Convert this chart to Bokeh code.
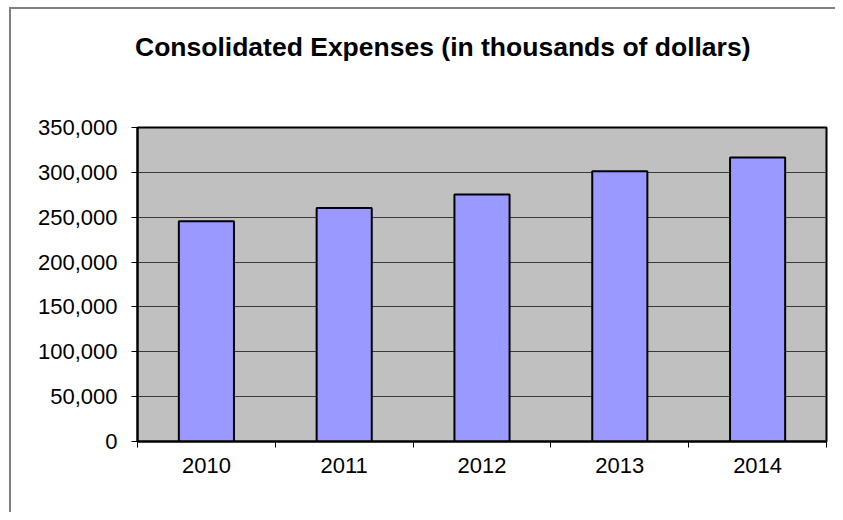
from bokeh.plotting import figure
from bokeh.models import (FixedTicker, NumeralTickFormatter, Range1d, ColumnDataSource, Title)
from bokeh.embed import file_html
from bokeh.resources import INLINE

title_text = "Consolidated Expenses (in thousands of dollars)"
years = ["2010", "2011", "2012", "2013", "2014"]
expenses = [245500, 260300, 275200, 301300, 316500]
y_ticks = [0, 50000, 100000, 150000, 200000, 250000, 300000, 350000]

FONT = "Liberation Sans"

xs = [i + 0.5 for i in range(len(years))]
src = ColumnDataSource(dict(x=xs, top=expenses))

p = figure(width=835, height=512, output_backend="svg", toolbar_location=None,
           x_range=Range1d(0, len(years)), y_range=Range1d(y_ticks[0], y_ticks[-1]),
           min_border_left=137, min_border_right=9, min_border_top=127,
           min_border_bottom=71)
p.title = None

# spacer between frame and title (nearest to frame), then the real title
p.add_layout(Title(text=" ", text_font_size="2px", standoff=57), "above")
p.add_layout(Title(text=title_text, align="left", offset=-2.5, standoff=10,
                   text_font=FONT, text_font_size="26.5px", text_font_style="bold",
                   text_color="black"), "above")

p.background_fill_color = "#C0C0C0"
p.border_fill_color = None
p.outline_line_color = "black"
p.outline_line_width = 2

# outer chart border (left/top visible), drawn as host background
p.styles = {
    "background-color": "white",
    "background-image": "linear-gradient(#808080, #808080), linear-gradient(#808080, #808080)",
    "background-size": "2px 100%, 100% 2px",
    "background-position": "9px 7px, 9px 7px",
    "background-repeat": "no-repeat",
}

p.vbar(x="x", top="top", width=0.4, source=src, fill_color="#9999FF",
       line_color="black", line_width=2)

# x axis
p.xaxis.ticker = FixedTicker(ticks=xs, minor_ticks=list(range(len(years) + 1)))
p.xaxis.major_label_overrides = {x: y for x, y in zip(xs, years)}
p.xaxis.major_tick_out = 0
p.xaxis.major_tick_in = 0
p.xaxis.minor_tick_out = 6
p.xaxis.minor_tick_in = 0
p.xaxis.minor_tick_line_color = "black"
p.xaxis.minor_tick_line_width = 1
p.xaxis.major_label_standoff = 10

# y axis
p.yaxis.ticker = FixedTicker(ticks=y_ticks)
p.yaxis.formatter = NumeralTickFormatter(format="0,0")
p.yaxis.major_tick_out = 6
p.yaxis.major_tick_in = 0
p.yaxis.minor_tick_out = 0
p.yaxis.minor_tick_in = 0
p.yaxis.major_label_standoff = 14

for ax in (p.xaxis, p.yaxis):
    ax.axis_line_color = "black"
    ax.axis_line_width = 2
    ax.major_tick_line_color = "black"
    ax.major_label_text_font = FONT
    ax.major_label_text_font_size = "22px"
    ax.major_label_text_color = "black"

p.xgrid.grid_line_color = None
p.ygrid.ticker = FixedTicker(ticks=y_ticks)
p.ygrid.grid_line_color = "#3a3a3a"
p.ygrid.grid_line_width = 1.2

open("out.html", "w").write(file_html(p, INLINE))
